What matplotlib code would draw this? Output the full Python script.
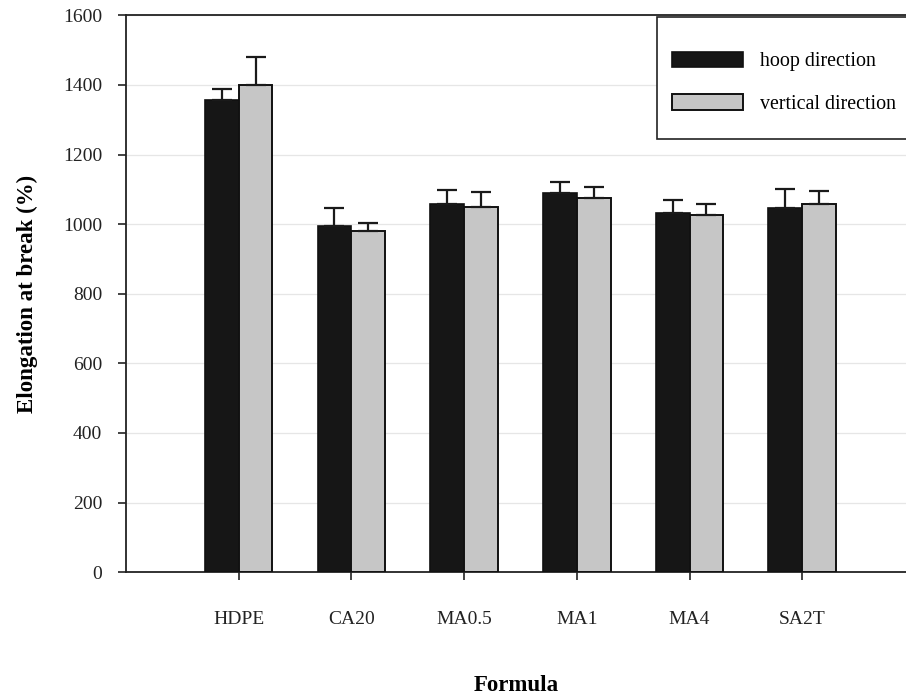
import matplotlib
matplotlib.use("Agg")
import matplotlib.pyplot as plt
from matplotlib.patches import Rectangle
import numpy as np

formulas = ["HDPE", "CA20", "MA0.5", "MA1", "MA4", "SA2T"]
hoop = [1356, 995, 1057, 1088, 1031, 1047]
hoop_err = [32, 51, 41, 34, 38, 54]
vertical = [1399, 980, 1050, 1074, 1025, 1057]
vertical_err = [81, 24, 42, 33, 32, 39]

plt.rcParams["font.family"] = ["Liberation Serif", "DejaVu Serif"]

fig = plt.figure(figsize=(9.06, 6.96), dpi=100)
ax = fig.add_axes([0.139, 0.178, 0.861, 0.800])

x = np.arange(1, len(formulas) + 1)
w = 0.3
err_kw = dict(ecolor="#1a1a1a", elinewidth=1.6, capsize=7, capthick=1.6)

ax.bar(x - w / 2, hoop, w, color="#161616", edgecolor="#111111", linewidth=1.2,
       yerr=[np.zeros(len(hoop)), hoop_err], error_kw=err_kw, label="hoop direction",
       zorder=3)
ax.bar(x + w / 2, vertical, w, color="#c6c6c6", edgecolor="#111111", linewidth=1.4,
       yerr=[np.zeros(len(vertical)), vertical_err], error_kw=err_kw,
       label="vertical direction", zorder=3)

ax.set_xlim(0, 6.92)
ax.set_ylim(0, 1600)
ax.set_yticks(np.arange(0, 1601, 200))
ax.set_xticks(x)
ax.set_xticklabels(formulas)
ax.yaxis.grid(True, color="#e6e6e6", linewidth=0.9, zorder=0)
ax.set_axisbelow(True)

for s in ["left", "bottom", "top"]:
    ax.spines[s].set_linewidth(1.3)
    ax.spines[s].set_color("#222222")
ax.spines["right"].set_visible(False)

ax.tick_params(axis="both", direction="out", length=6, width=1.2, labelsize=14,
               colors="#222222")
ax.tick_params(axis="y", pad=11)
ax.tick_params(axis="x", pad=22)

ax.set_ylabel("Elongation at break (%)", fontsize=16.5, fontweight="bold", labelpad=18)
ax.set_xlabel("Formula", fontsize=16.5, fontweight="bold", labelpad=34)

# legend frame drawn separately so its padding can differ horizontally/vertically
frame = Rectangle((0.681, 0.778), 0.40, 0.219, transform=ax.transAxes, fill=True,
                  facecolor="white", edgecolor="#222222", linewidth=1.2,
                  clip_on=False, zorder=4)
ax.add_patch(frame)
leg = ax.legend(loc="upper left", bbox_to_anchor=(0.700, 0.935), frameon=False,
                fontsize=14.4, handlelength=3.55, handleheight=0.85,
                labelspacing=1.15, borderpad=0, handletextpad=0.85,
                borderaxespad=0)
leg.set_zorder(5)

fig.savefig("out.png", dpi=100)
